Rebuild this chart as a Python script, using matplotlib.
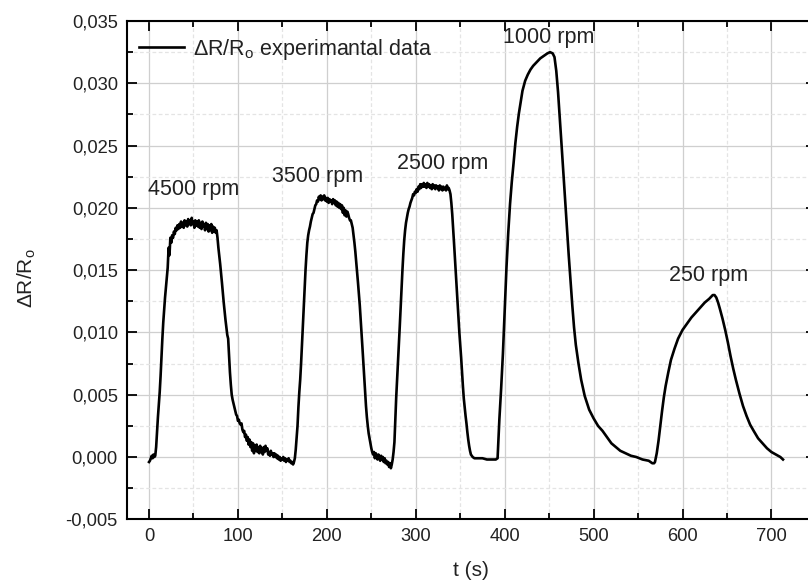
import numpy as np
import matplotlib
matplotlib.use("Agg")
import matplotlib.pyplot as plt
from matplotlib.ticker import MultipleLocator, FuncFormatter

plt.rcParams['font.family'] = ['Liberation Sans', 'DejaVu Sans']
plt.rcParams['mathtext.fontset'] = 'custom'
plt.rcParams['mathtext.rm'] = 'Liberation Sans'

# ---- data ----
t_4500 = [0, 1, 2, 3, 4, 5, 6, 7, 8, 9, 10, 11, 12, 13, 14, 15, 16, 17, 18, 19, 20, 21, 22, 23, 24,
          25, 26, 27, 28, 29, 30, 31, 32, 33, 34, 35, 36, 37, 38, 39, 40, 41, 42, 43, 44, 45, 46, 47,
          48, 49, 50, 51, 52, 53, 54, 55, 56, 57, 58, 59, 60, 61, 62, 63, 64, 65, 66, 67, 68, 69, 70,
          71, 72, 73, 74, 75, 76, 77, 78, 80, 82, 84, 86, 87, 88, 89, 90, 91, 92, 93, 94, 95, 96, 97,
          98, 99, 100, 101, 102, 103, 104, 105, 106, 107, 108, 109, 110, 111, 112, 113, 114, 115, 116,
          117, 118, 119, 120, 121, 122, 123, 124, 125, 126, 127, 128, 129, 130, 131, 132, 133, 134, 135,
          136, 137, 138, 139, 140, 141, 142, 143, 144, 145, 146, 147, 148, 149, 150, 151, 152, 153, 154,
          155, 156, 157, 158, 159, 160, 161, 162, 163, 164, 165]
y_4500 = [-0.0004, -0.0003, -0.0001, 0.0001, -0.0001, 0.0002, 0.0000, 0.0001, 0.0008, 0.0020, 0.0032,
          0.0042, 0.0052, 0.0065, 0.0080, 0.0095, 0.0108, 0.0118, 0.0128, 0.0136, 0.0145, 0.0152, 0.0168,
          0.0162, 0.0176,
          0.0172, 0.0178, 0.0176, 0.0181, 0.0179, 0.0184, 0.0182, 0.0186, 0.0183, 0.0187, 0.0184, 0.0189,
          0.0185, 0.0188, 0.0184, 0.0190, 0.0186, 0.0189, 0.0185, 0.0191, 0.0187, 0.0190, 0.0186, 0.0192,
          0.0187, 0.0189, 0.0184, 0.0190, 0.0186, 0.0189, 0.0185, 0.0190, 0.0184, 0.0188, 0.0183, 0.0189,
          0.0185, 0.0187, 0.0182, 0.0188, 0.0183, 0.0187, 0.0181, 0.0186, 0.0182, 0.0187, 0.0180, 0.0185,
          0.0181, 0.0184, 0.0180, 0.0182, 0.0176, 0.0168, 0.0155, 0.0140, 0.0124, 0.0110, 0.0104, 0.0098,
          0.0095, 0.0082, 0.0068, 0.0058, 0.0050, 0.0046, 0.0043, 0.0040, 0.0037, 0.0034, 0.0033, 0.0029,
          0.0030, 0.0027, 0.0026, 0.0027, 0.0022, 0.0020, 0.0021, 0.0016, 0.0018, 0.0013, 0.0016, 0.0010,
          0.0014, 0.0008, 0.0012, 0.0005, 0.0011, 0.0003, 0.0009, 0.0005, 0.0010, 0.0004, 0.0008, 0.0003,
          0.0009, 0.0004, 0.0007, 0.0002, 0.0008, 0.0004, 0.0009, 0.0005, 0.0007, 0.0002, 0.0004, 0.0001,
          0.0005, 0.0002, 0.0003, 0.0000, 0.0003, 0.0000, 0.0002, -0.0001, 0.0001, -0.0002, 0.0000,
          -0.0003, -0.0001, -0.0002, 0.0000, -0.0003, -0.0001, -0.0004, -0.0002, -0.0003, -0.0001,
          -0.0004, -0.0003, -0.0005, -0.0004, -0.0006, -0.0004, -0.0001, 0.0006]

t_3500 = [166, 167, 168, 169, 170, 171, 172, 173, 174, 175, 176, 177, 178, 179, 180, 181, 182, 183,
          184, 185, 186, 187, 188, 189, 190, 191, 192, 193, 194, 195, 196, 197, 198, 199, 200, 201,
          202, 203, 204, 205, 206, 207, 208, 209, 210, 211, 212, 213, 214, 215, 216, 217, 218, 219,
          220, 221, 222, 223, 224, 225, 226, 227, 228, 229, 230, 231, 232, 233, 234, 235, 236, 237,
          238, 239, 240, 241, 242, 243, 244, 245, 246, 247, 248, 249, 250, 251, 252, 253, 254, 255,
          256, 257, 258, 259, 260, 261, 262, 263, 264, 265, 266, 267, 268, 269, 270, 271, 272, 273,
          274, 275]
y_3500 = [0.0015, 0.0025, 0.0040, 0.0052, 0.0062, 0.0075, 0.0090, 0.0105, 0.0120, 0.0135, 0.0150,
          0.0162, 0.0172, 0.0178, 0.0182, 0.0185, 0.0189, 0.0192, 0.0195, 0.0196, 0.0199, 0.0202,
          0.0203, 0.0206, 0.0205, 0.0209, 0.0207, 0.0210, 0.0206, 0.0209, 0.0207, 0.0210, 0.0206,
          0.0208, 0.0205, 0.0208, 0.0204, 0.0207, 0.0205, 0.0206, 0.0203, 0.0207, 0.0204, 0.0206,
          0.0202, 0.0205, 0.0201, 0.0204, 0.0200, 0.0203, 0.0199, 0.0202, 0.0196, 0.0200, 0.0194,
          0.0198, 0.0193, 0.0197, 0.0195, 0.0192, 0.0190, 0.0190, 0.0187, 0.0184, 0.0178, 0.0172,
          0.0165, 0.0157, 0.0148, 0.0140, 0.0131, 0.0122, 0.0111, 0.0100, 0.0088, 0.0076, 0.0064,
          0.0052, 0.0041, 0.0032, 0.0025, 0.0019, 0.0015, 0.0011, 0.0007, 0.0004, 0.0002, 0.0004,
          -0.0001, 0.0003, 0.0001, -0.0002, 0.0002, 0.0000, -0.0003, 0.0001, -0.0002, 0.0000, -0.0004,
          -0.0001, -0.0005, -0.0003, -0.0006, -0.0004, -0.0008, -0.0005, -0.0009, -0.0006, -0.0002,
          0.0004]

t_2500 = [276, 277, 278, 279, 280, 281, 282, 283, 284, 285, 286, 287, 288, 289, 290, 291, 292, 293,
          294, 295, 296, 297, 298, 299, 300, 301, 302, 303, 304, 305, 306, 307, 308, 309, 310, 311,
          312, 313, 314, 315, 316, 317, 318, 319, 320, 321, 322, 323, 324, 325, 326, 327, 328, 329,
          330, 331, 332, 333, 334, 335, 336, 337, 338, 339, 340, 341, 342, 343, 344, 345, 346, 347,
          348, 349, 350, 351, 352, 353, 354, 355, 356, 357, 358, 359, 360, 361, 362, 364, 366, 370,
          375, 380, 385, 390, 392]
y_2500 = [0.0012, 0.0030, 0.0048, 0.0062, 0.0075, 0.0090, 0.0105, 0.0120, 0.0135, 0.0150, 0.0163,
          0.0174, 0.0182, 0.0188, 0.0192, 0.0196, 0.0199, 0.0201, 0.0204, 0.0206, 0.0208, 0.0211,
          0.0210, 0.0213, 0.0212, 0.0215, 0.0213, 0.0217, 0.0215, 0.0219, 0.0216, 0.0219, 0.0217,
          0.0220, 0.0217, 0.0219, 0.0216, 0.0220, 0.0217, 0.0219, 0.0216, 0.0218, 0.0215, 0.0219,
          0.0216, 0.0218, 0.0215, 0.0218, 0.0216, 0.0217, 0.0214, 0.0218, 0.0215, 0.0217, 0.0214,
          0.0217, 0.0215, 0.0216, 0.0214, 0.0218, 0.0215, 0.0216, 0.0214, 0.0211, 0.0204, 0.0195,
          0.0184, 0.0172, 0.0160, 0.0148, 0.0136, 0.0124, 0.0112, 0.0100, 0.0090, 0.0080, 0.0068,
          0.0057, 0.0047, 0.0040, 0.0033, 0.0027, 0.0020, 0.0014, 0.0009, 0.0005, 0.0002, 0.0000,
          -0.0001, -0.0001, -0.0001, -0.0002, -0.0002, -0.0002, -0.0001]

t_1000 = [394, 396, 398, 400, 402, 404, 406, 408, 410, 412, 414, 416, 418, 420, 423, 426, 429, 432,
          436, 440, 444, 448, 451, 454, 456, 458, 460, 462, 464, 466, 468, 470, 472, 474, 476, 478,
          480, 483, 486, 490, 495, 500, 505, 510, 515, 520, 525, 530, 536, 542, 548, 555, 562, 566,
          568]
y_1000 = [0.0030, 0.0055, 0.0083, 0.0117, 0.0152, 0.0180, 0.0203, 0.0221, 0.0236, 0.0252, 0.0265,
          0.0276, 0.0285, 0.0294, 0.0302, 0.0307, 0.0311, 0.0314, 0.0317, 0.0320, 0.0322, 0.0324,
          0.0325, 0.0324, 0.0321, 0.0310, 0.0293, 0.0272, 0.0250, 0.0228, 0.0205, 0.0184, 0.0162,
          0.0142, 0.0122, 0.0104, 0.0090, 0.0075, 0.0062, 0.0049, 0.0038, 0.0031, 0.0025, 0.0021,
          0.0016, 0.0011, 0.0008, 0.0005, 0.0003, 0.0001, 0.0000, -0.0002, -0.0003, -0.0005, -0.0005]

t_250 = [569, 571, 573, 575, 577, 579, 581, 584, 587, 591, 595, 600, 605, 610, 615, 620, 625, 630,
         634, 636, 638, 640, 642, 645, 648, 651, 654, 657, 660, 664, 668, 672, 676, 680, 685, 690,
         695, 700, 705, 710, 713]
y_250 = [-0.0004, 0.0003, 0.0013, 0.0025, 0.0037, 0.0048, 0.0057, 0.0068, 0.0078, 0.0087, 0.0095,
         0.0102, 0.0107, 0.0112, 0.0116, 0.0120, 0.0124, 0.0127, 0.0130, 0.0130, 0.0128, 0.0124,
         0.0119, 0.0111, 0.0102, 0.0092, 0.0081, 0.0071, 0.0062, 0.0051, 0.0041, 0.0033, 0.0026,
         0.0021, 0.0015, 0.0011, 0.0007, 0.0004, 0.0002, 0.0000, -0.0002]

speed_labels = ["4500 rpm", "3500 rpm", "2500 rpm", "1000 rpm", "250 rpm"]
legend_label = r"ΔR/R$_\mathregular{o}$ experimantal data"

t_all = np.concatenate([t_4500, t_3500, t_2500, t_1000, t_250])
y_all = np.concatenate([y_4500, y_3500, y_2500, y_1000, y_250])

# ---- figure ----
W, H = 808, 582
fig = plt.figure(figsize=(W / 100, H / 100), dpi=100)
ax_l, ax_r, ax_t, ax_b = 126.8, 815.9, 21.0, 519.3
ax = fig.add_axes([ax_l / W, 1 - ax_b / H, (ax_r - ax_l) / W, (ax_b - ax_t) / H])

ax.plot(t_all, y_all, color='black', lw=1.9, label=legend_label, zorder=3)

ax.set_xlim(-25, 750)
ax.set_ylim(-0.005, 0.035)
ax.xaxis.set_major_locator(MultipleLocator(100))
ax.xaxis.set_minor_locator(MultipleLocator(50))
ax.yaxis.set_major_locator(MultipleLocator(0.005))
ax.yaxis.set_minor_locator(MultipleLocator(0.0025))
ax.yaxis.set_major_formatter(FuncFormatter(lambda v, p: f"{v:.3f}".replace('.', ',').replace('-0,000', '0,000')))

ax.grid(which='major', color='#cfcfcf', lw=0.9, ls='-', zorder=0)
ax.grid(which='minor', color='#e4e4e4', lw=0.9, ls=(0, (3, 2)), zorder=0)
ax.set_axisbelow(True)

ax.tick_params(which='both', direction='in', top=True, right=True, width=1.3, colors='black')
ax.tick_params(which='major', length=7, pad=6.5, labelsize=13.2, labelcolor='#222222')
ax.tick_params(which='minor', length=4)
for s in ax.spines.values():
    s.set_linewidth(1.5)

# annotations
label_pos = [(50, 0.02145), (189, 0.0225), (330, 0.0236), (449, 0.0337), (629, 0.0146)]
for txt, (xp, yp) in zip(speed_labels, label_pos):
    ax.text(xp, yp, txt, fontsize=15.5, ha='center', va='center', color='#222222')

leg = ax.legend(loc='upper left', bbox_to_anchor=(0.018, 0.968), frameon=False, fontsize=15.5,
                handlelength=2.1, handletextpad=0.4, borderpad=0, borderaxespad=0)
for txt in leg.get_texts():
    txt.set_color('#222222')

fig.text(27 / W, 1 - 278 / H, r"ΔR/R$_\mathregular{o}$", rotation=90, ha='center', va='center',
         fontsize=15, color='#222222')
fig.text(471 / W, 1 - 571 / H, "t (s)", ha='center', va='center', fontsize=15, color='#222222')

fig.savefig("out.png", dpi=100)
